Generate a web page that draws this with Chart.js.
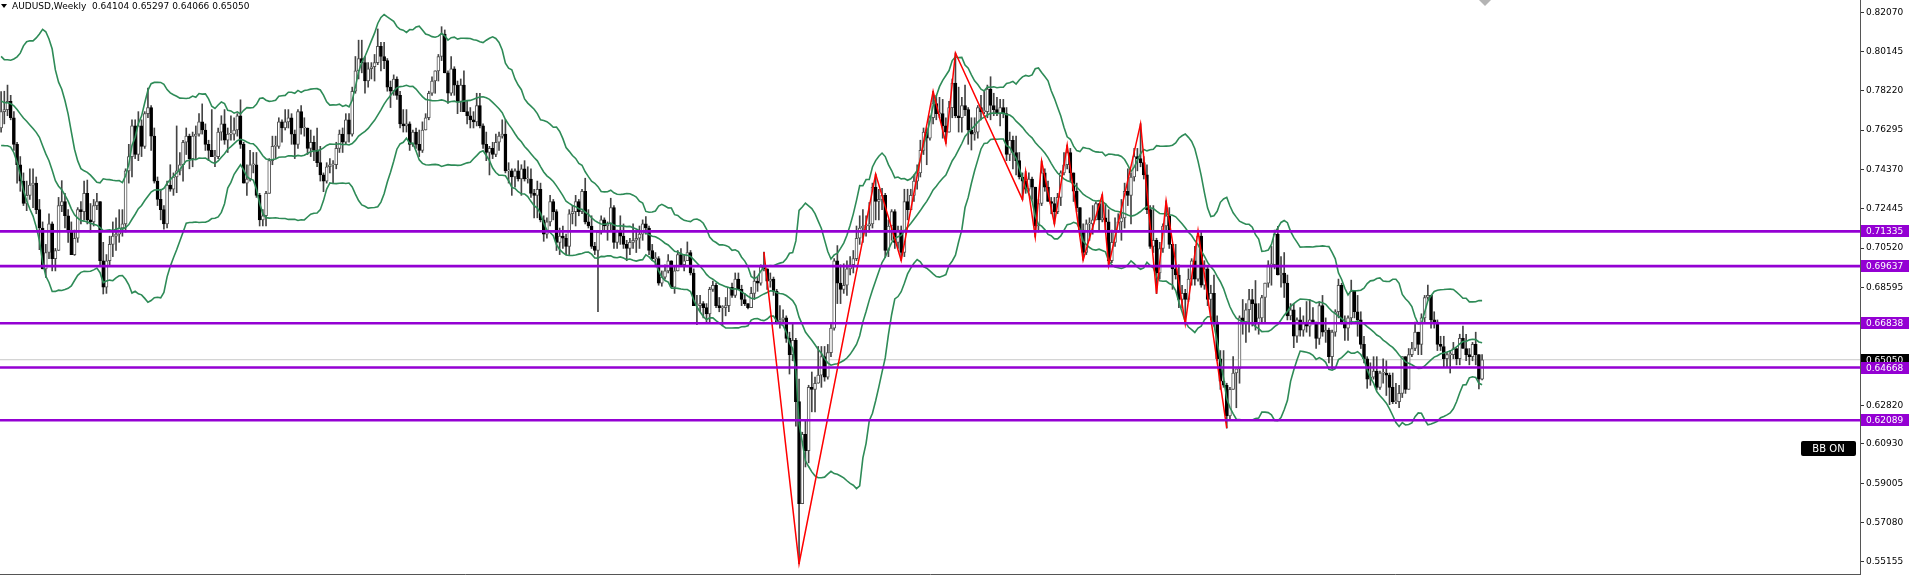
<!DOCTYPE html>
<html>
<head>
<meta charset="utf-8">
<title>AUDUSD Weekly</title>
<script src="https://cdn.jsdelivr.net/npm/chart.js@4.4.1/dist/chart.umd.min.js"></script>
<style>
  html, body { margin: 0; padding: 0; background: #fff; overflow: hidden; }
  #wrap { width: 1911px; height: 577px; }
</style>
</head>
<body>
<div id="wrap"><canvas id="chart" width="1911" height="577"></canvas></div>
<script>
// weekly AUDUSD candles, one row = 10 weeks. the first 19 weeks sit left of the
// visible window and only feed the bollinger bands.
const opens = [
  0.8180,0.7900,0.7780,0.7780,0.7770,0.7830,0.7800,0.7680,0.7620,0.7720,
  0.7720,0.7620,0.7630,0.7780,0.7830,0.7840,0.7930,0.8060,0.7800,0.7640,
  0.7720,0.7730,0.7770,0.7690,0.7560,0.7460,0.7380,0.7270,0.7310,0.7360,
  0.7370,0.7240,0.7150,0.6950,0.7030,0.7170,0.7000,0.7040,0.7260,0.7280,
  0.7210,0.7130,0.7020,0.7100,0.7240,0.7230,0.7320,0.7190,0.7180,0.7260,
  0.7280,0.6990,0.6860,0.6990,0.7070,0.7110,0.7120,0.7150,0.7170,0.7430,
  0.7500,0.7650,0.7510,0.7650,0.7550,0.7710,0.7740,0.7600,0.7380,0.7290,
  0.7240,0.7170,0.7360,0.7340,0.7400,0.7430,0.7460,0.7570,0.7600,0.7490,
  0.7600,0.7610,0.7670,0.7630,0.7560,0.7530,0.7500,0.7500,0.7620,0.7660,
  0.7580,0.7610,0.7610,0.7630,0.7700,0.7560,0.7370,0.7390,0.7460,0.7460,
  0.7310,0.7190,0.7210,0.7320,0.7480,0.7550,0.7550,0.7670,0.7640,0.7670,
  0.7690,0.7610,0.7560,0.7720,0.7640,0.7640,0.7540,0.7570,0.7530,0.7470,
  0.7410,0.7380,0.7450,0.7460,0.7460,0.7540,0.7610,0.7570,0.7680,0.7610,
  0.7820,0.7920,0.7980,0.7960,0.7870,0.7930,0.7940,0.7960,0.8040,0.7990,
  0.7970,0.7840,0.7820,0.7880,0.7800,0.7660,0.7650,0.7660,0.7560,0.7620,
  0.7560,0.7530,0.7630,0.7690,0.7810,0.7870,0.7920,0.7990,0.8100,0.7910,
  0.7810,0.7930,0.7850,0.7770,0.7850,0.7720,0.7700,0.7680,0.7670,0.7750,
  0.7650,0.7560,0.7520,0.7540,0.7510,0.7570,0.7600,0.7610,0.7430,0.7430,
  0.7400,0.7430,0.7390,0.7440,0.7390,0.7390,0.7320,0.7310,0.7340,0.7190,
  0.7120,0.7180,0.7280,0.7230,0.7080,0.7110,0.7100,0.7060,0.7220,0.7230,
  0.7280,0.7230,0.7330,0.7180,0.7160,0.7060,0.7040,0.7130,0.7190,0.7160,
  0.7170,0.7250,0.7080,0.7140,0.7110,0.7070,0.7050,0.7080,0.7090,0.7100,
  0.7120,0.7170,0.7150,0.7040,0.7000,0.7000,0.6880,0.6910,0.6940,0.6990,
  0.6860,0.6940,0.7020,0.6970,0.6990,0.7030,0.6930,0.6770,0.6770,0.6780,
  0.6760,0.6730,0.6850,0.6870,0.6770,0.6760,0.6760,0.6770,0.6860,0.6820,
  0.6900,0.6850,0.6800,0.6780,0.6760,0.6830,0.6890,0.6880,0.6960,0.6950,
  0.6890,0.6900,0.6840,0.6690,0.6700,0.6710,0.6610,0.6530,0.6600,0.6300,
  0.5800,0.6140,0.6060,0.6370,0.6360,0.6390,0.6430,0.6520,0.6420,0.6540,
  0.6660,0.6990,0.6880,0.6850,0.6870,0.6950,0.6970,0.7000,0.7100,0.7150,
  0.7160,0.7160,0.7170,0.7350,0.7280,0.7290,0.7310,0.7040,0.7160,0.7230,
  0.7080,0.7140,0.7030,0.7280,0.7240,0.7310,0.7380,0.7420,0.7530,0.7620,
  0.7590,0.7690,0.7760,0.7710,0.7710,0.7650,0.7620,0.7740,0.7860,0.7700,
  0.7690,0.7750,0.7730,0.7630,0.7610,0.7620,0.7740,0.7720,0.7720,0.7830,
  0.7750,0.7730,0.7710,0.7740,0.7710,0.7510,0.7580,0.7520,0.7480,0.7400,
  0.7380,0.7340,0.7390,0.7350,0.7160,0.7270,0.7420,0.7350,0.7280,0.7270,
  0.7230,0.7300,0.7420,0.7460,0.7520,0.7420,0.7330,0.7250,0.7140,0.7030,
  0.7170,0.7170,0.7190,0.7270,0.7190,0.7200,0.7180,0.6990,0.7080,0.7130,
  0.7180,0.7200,0.7330,0.7310,0.7400,0.7500,0.7490,0.7470,0.7410,0.7240,
  0.7060,0.7090,0.6930,0.7050,0.7160,0.7210,0.7070,0.6950,0.6920,0.6800,
  0.6830,0.6800,0.6900,0.6990,0.6900,0.7110,0.6870,0.6950,0.6800,0.6830,
  0.6690,0.6510,0.6400,0.6380,0.6230,0.6360,0.6440,0.6460,0.6710,0.6690,
  0.6750,0.6800,0.6780,0.6680,0.6710,0.6810,0.6880,0.6970,0.6970,0.7120,
  0.6920,0.6930,0.6880,0.6720,0.6750,0.6620,0.6700,0.6650,0.6690,0.6670,
  0.6700,0.6690,0.6610,0.6770,0.6640,0.6650,0.6520,0.6640,0.6740,0.6870,
  0.6690,0.6660,0.6710,0.6840,0.6740,0.6700,0.6580,0.6510,0.6410,0.6420,
  0.6450,0.6370,0.6440,0.6440,0.6430,0.6370,0.6300,0.6300,0.6340,0.6520,
  0.6360,0.6530,0.6560,0.6640,0.6580,0.6710,0.6810,0.6820,0.6700,0.6690,
  0.6580,0.6570,0.6510,0.6530,0.6530,0.6560,0.6510,0.6610,0.6560,0.6530,
  0.6520,0.6580,0.6530,0.64104
];
const highs = [
  0.8230,0.7950,0.7840,0.7820,0.7880,0.7910,0.7840,0.7720,0.7800,0.7940,
  0.7720,0.7740,0.7800,0.7850,0.8068,0.7950,0.8163,0.8080,0.7830,0.7818,
  0.7820,0.7850,0.7800,0.7720,0.7570,0.7500,0.7420,0.7380,0.7440,0.7440,
  0.7400,0.7290,0.7180,0.7070,0.7220,0.7180,0.7050,0.7300,0.7382,0.7320,
  0.7240,0.7180,0.7140,0.7250,0.7280,0.7380,0.7385,0.7270,0.7290,0.7320,
  0.7280,0.7080,0.7020,0.7110,0.7180,0.7200,0.7240,0.7240,0.7440,0.7560,
  0.7680,0.7680,0.7720,0.7680,0.7720,0.7835,0.7750,0.7640,0.7400,0.7340,
  0.7260,0.7380,0.7460,0.7420,0.7650,0.7520,0.7580,0.7640,0.7610,0.7620,
  0.7650,0.7710,0.7758,0.7660,0.7580,0.7730,0.7530,0.7640,0.7700,0.7730,
  0.7640,0.7700,0.7690,0.7710,0.7778,0.7570,0.7460,0.7530,0.7520,0.7520,
  0.7320,0.7240,0.7330,0.7490,0.7600,0.7600,0.7690,0.7680,0.7730,0.7730,
  0.7710,0.7630,0.7730,0.7750,0.7690,0.7640,0.7630,0.7600,0.7640,0.7550,
  0.7420,0.7470,0.7490,0.7480,0.7570,0.7630,0.7640,0.7710,0.7710,0.7840,
  0.7990,0.8070,0.8070,0.7990,0.7960,0.7960,0.8000,0.8125,0.8060,0.8060,
  0.7980,0.7870,0.7900,0.7890,0.7820,0.7730,0.7730,0.7670,0.7630,0.7640,
  0.7630,0.7670,0.7710,0.7820,0.7890,0.7920,0.8000,0.8136,0.8120,0.7920,
  0.7990,0.7940,0.7870,0.7880,0.7920,0.7770,0.7740,0.7720,0.7810,0.7810,
  0.7660,0.7620,0.7550,0.7570,0.7610,0.7620,0.7680,0.7680,0.7470,0.7440,
  0.7440,0.7480,0.7460,0.7480,0.7450,0.7440,0.7340,0.7380,0.7370,0.7210,
  0.7200,0.7310,0.7290,0.7240,0.7150,0.7160,0.7120,0.7240,0.7260,0.7310,
  0.7290,0.7340,0.7394,0.7240,0.7210,0.7080,0.7060,0.7210,0.7200,0.7180,
  0.7296,0.7260,0.7140,0.7210,0.7170,0.7090,0.7100,0.7170,0.7140,0.7160,
  0.7190,0.7206,0.7160,0.7070,0.7030,0.7010,0.6940,0.6970,0.7020,0.6990,
  0.6960,0.7040,0.7050,0.7020,0.7082,0.7040,0.6950,0.6820,0.6820,0.6790,
  0.6780,0.6860,0.6890,0.6880,0.6810,0.6770,0.6810,0.6860,0.6880,0.6930,
  0.6930,0.6870,0.6830,0.6780,0.6860,0.6940,0.6910,0.6970,0.7032,0.6950,
  0.6930,0.6910,0.6850,0.6770,0.6750,0.6720,0.6640,0.6685,0.6610,0.6410,
  0.6150,0.6210,0.6380,0.6445,0.6420,0.6570,0.6570,0.6570,0.6580,0.6680,
  0.7000,0.7064,0.6970,0.6975,0.6990,0.7010,0.7040,0.7160,0.7210,0.7240,
  0.7210,0.7275,0.7370,0.7414,0.7340,0.7345,0.7320,0.7190,0.7240,0.7240,
  0.7160,0.7160,0.7340,0.7340,0.7340,0.7410,0.7460,0.7580,0.7640,0.7640,
  0.7700,0.7820,0.7800,0.7790,0.7780,0.7690,0.7770,0.7880,0.8007,0.7840,
  0.7790,0.7850,0.7740,0.7690,0.7690,0.7750,0.7800,0.7820,0.7850,0.7891,
  0.7810,0.7790,0.7780,0.7780,0.7740,0.7620,0.7600,0.7600,0.7520,0.7420,
  0.7427,0.7420,0.7400,0.7350,0.7290,0.7478,0.7440,0.7380,0.7300,0.7300,
  0.7320,0.7430,0.7520,0.7556,0.7540,0.7420,0.7370,0.7250,0.7170,0.7190,
  0.7200,0.7260,0.7278,0.7270,0.7314,0.7270,0.7240,0.7140,0.7200,0.7220,
  0.7290,0.7370,0.7440,0.7420,0.7540,0.7540,0.7661,0.7500,0.7460,0.7260,
  0.7260,0.7100,0.7080,0.7170,0.7283,0.7250,0.7070,0.7070,0.6970,0.6870,
  0.6850,0.6950,0.7000,0.7060,0.7137,0.7130,0.6990,0.6960,0.6870,0.6920,
  0.6720,0.6550,0.6550,0.6390,0.6370,0.6520,0.6460,0.6720,0.6800,0.6780,
  0.6850,0.6850,0.6893,0.6780,0.6820,0.6880,0.6990,0.7060,0.7140,0.7158,
  0.7010,0.7030,0.6920,0.6780,0.6780,0.6710,0.6760,0.6720,0.6790,0.6800,
  0.6760,0.6690,0.6790,0.6820,0.6710,0.6660,0.6650,0.6750,0.6900,0.6880,
  0.6720,0.6720,0.6895,0.6840,0.6820,0.6740,0.6620,0.6520,0.6490,0.6520,
  0.6520,0.6450,0.6510,0.6500,0.6440,0.6440,0.6390,0.6380,0.6520,0.6520,
  0.6560,0.6590,0.6690,0.6640,0.6730,0.6820,0.6871,0.6820,0.6740,0.6700,
  0.6620,0.6620,0.6540,0.6550,0.6590,0.6560,0.6630,0.6670,0.6630,0.6560,
  0.6590,0.6640,0.6530,0.65297
];
const lows = [
  0.7880,0.7740,0.7626,0.7650,0.7730,0.7780,0.7670,0.7561,0.7600,0.7700,
  0.7533,0.7590,0.7610,0.7670,0.7800,0.7800,0.7910,0.7760,0.7600,0.7620,
  0.7660,0.7700,0.7680,0.7530,0.7370,0.7330,0.7260,0.7235,0.7290,0.7250,
  0.7220,0.7044,0.6950,0.6908,0.7000,0.6940,0.6940,0.7040,0.7230,0.7150,
  0.7080,0.7020,0.7016,0.7080,0.7170,0.7190,0.7170,0.7130,0.7160,0.7240,
  0.6970,0.6827,0.6830,0.6970,0.7010,0.7040,0.7080,0.7110,0.7130,0.7370,
  0.7400,0.7490,0.7480,0.7500,0.7540,0.7690,0.7530,0.7370,0.7260,0.7190,
  0.7145,0.7150,0.7330,0.7310,0.7323,0.7410,0.7380,0.7510,0.7440,0.7450,
  0.7490,0.7600,0.7610,0.7530,0.7480,0.7500,0.7450,0.7490,0.7580,0.7560,
  0.7520,0.7580,0.7580,0.7600,0.7540,0.7370,0.7310,0.7380,0.7420,0.7300,
  0.7160,0.7160,0.7160,0.7320,0.7460,0.7490,0.7540,0.7570,0.7630,0.7640,
  0.7560,0.7490,0.7540,0.7610,0.7600,0.7510,0.7500,0.7480,0.7450,0.7380,
  0.7328,0.7370,0.7420,0.7370,0.7440,0.7520,0.7520,0.7560,0.7570,0.7600,
  0.7810,0.7880,0.7910,0.7810,0.7840,0.7880,0.7870,0.7950,0.7920,0.7930,
  0.7820,0.7740,0.7800,0.7780,0.7640,0.7620,0.7620,0.7530,0.7550,0.7540,
  0.7500,0.7520,0.7630,0.7680,0.7800,0.7810,0.7870,0.7970,0.7910,0.7760,
  0.7800,0.7800,0.7710,0.7720,0.7720,0.7660,0.7640,0.7640,0.7650,0.7640,
  0.7540,0.7480,0.7410,0.7490,0.7500,0.7530,0.7590,0.7420,0.7370,0.7310,
  0.7350,0.7380,0.7310,0.7380,0.7370,0.7300,0.7200,0.7200,0.7180,0.7085,
  0.7100,0.7160,0.7190,0.7040,0.7020,0.7050,0.7020,0.7020,0.7170,0.7160,
  0.7210,0.7220,0.7170,0.7150,0.7050,0.7020,0.6740,0.7120,0.7140,0.7090,
  0.7140,0.7050,0.7050,0.7070,0.7050,0.6990,0.7020,0.7050,0.7030,0.7050,
  0.7090,0.7120,0.7020,0.6990,0.6960,0.6870,0.6865,0.6900,0.6930,0.6860,
  0.6830,0.6940,0.6970,0.6940,0.6990,0.6920,0.6770,0.6677,0.6740,0.6710,
  0.6690,0.6690,0.6840,0.6760,0.6740,0.6671,0.6720,0.6740,0.6810,0.6810,
  0.6850,0.6770,0.6770,0.6754,0.6760,0.6800,0.6840,0.6870,0.6940,0.6850,
  0.6860,0.6820,0.6680,0.6660,0.6680,0.6590,0.6435,0.6500,0.6180,0.5506,
  0.5800,0.5980,0.6000,0.6250,0.6250,0.6390,0.6370,0.6400,0.6410,0.6520,
  0.6650,0.6780,0.6780,0.6830,0.6820,0.6920,0.6930,0.6990,0.7070,0.7080,
  0.7110,0.7130,0.7150,0.7190,0.7190,0.7240,0.7005,0.7010,0.7090,0.7050,
  0.7050,0.6991,0.7010,0.7190,0.7240,0.7280,0.7340,0.7400,0.7510,0.7460,
  0.7580,0.7660,0.7680,0.7690,0.7590,0.7564,0.7620,0.7690,0.7690,0.7620,
  0.7620,0.7700,0.7560,0.7532,0.7580,0.7590,0.7680,0.7710,0.7690,0.7680,
  0.7700,0.7700,0.7650,0.7690,0.7480,0.7480,0.7440,0.7410,0.7390,0.7289,
  0.7320,0.7330,0.7290,0.7106,0.7130,0.7260,0.7330,0.7280,0.7220,0.7170,
  0.7220,0.7260,0.7410,0.7440,0.7380,0.7280,0.7230,0.7110,0.6993,0.7020,
  0.7090,0.7120,0.7190,0.7140,0.7180,0.7140,0.6967,0.6980,0.7060,0.7130,
  0.7090,0.7150,0.7260,0.7170,0.7380,0.7430,0.7450,0.7390,0.7220,0.7050,
  0.7030,0.6829,0.6900,0.7030,0.7130,0.7050,0.6850,0.6900,0.6760,0.6760,
  0.6681,0.6790,0.6870,0.6870,0.6890,0.6860,0.6850,0.6770,0.6700,0.6670,
  0.6500,0.6360,0.6370,0.6170,0.6210,0.6360,0.6270,0.6390,0.6630,0.6590,
  0.6640,0.6670,0.6650,0.6630,0.6690,0.6690,0.6860,0.6870,0.6950,0.6920,
  0.6860,0.6810,0.6700,0.6700,0.6564,0.6590,0.6620,0.6620,0.6640,0.6620,
  0.6680,0.6560,0.6580,0.6620,0.6590,0.6490,0.6460,0.6620,0.6710,0.6680,
  0.6600,0.6600,0.6680,0.6710,0.6620,0.6560,0.6490,0.6365,0.6380,0.6410,
  0.6357,0.6360,0.6390,0.6330,0.6285,0.6290,0.6290,0.6270,0.6320,0.6340,
  0.6360,0.6520,0.6550,0.6530,0.6530,0.6690,0.6800,0.6660,0.6660,0.6550,
  0.6550,0.6470,0.6470,0.6440,0.6510,0.6480,0.6480,0.6560,0.6500,0.6480,
  0.6500,0.6480,0.6362,0.64066
];
const closes = [
  0.7900,0.7780,0.7780,0.7770,0.7830,0.7800,0.7680,0.7620,0.7720,0.7720,
  0.7620,0.7630,0.7780,0.7830,0.7840,0.7930,0.8060,0.7800,0.7640,0.7720,
  0.7730,0.7770,0.7690,0.7560,0.7460,0.7380,0.7270,0.7310,0.7360,0.7370,
  0.7240,0.7150,0.6950,0.7030,0.7170,0.7000,0.7040,0.7260,0.7280,0.7210,
  0.7130,0.7020,0.7100,0.7240,0.7230,0.7320,0.7190,0.7180,0.7260,0.7280,
  0.6990,0.6860,0.6990,0.7070,0.7110,0.7120,0.7150,0.7170,0.7430,0.7500,
  0.7650,0.7510,0.7650,0.7550,0.7710,0.7740,0.7600,0.7380,0.7290,0.7240,
  0.7170,0.7360,0.7340,0.7400,0.7430,0.7460,0.7570,0.7600,0.7490,0.7600,
  0.7610,0.7670,0.7630,0.7560,0.7530,0.7500,0.7500,0.7620,0.7660,0.7580,
  0.7610,0.7610,0.7630,0.7700,0.7560,0.7370,0.7390,0.7460,0.7460,0.7310,
  0.7190,0.7210,0.7320,0.7480,0.7550,0.7550,0.7670,0.7640,0.7670,0.7690,
  0.7610,0.7560,0.7720,0.7640,0.7640,0.7540,0.7570,0.7530,0.7470,0.7410,
  0.7380,0.7450,0.7460,0.7460,0.7540,0.7610,0.7570,0.7680,0.7610,0.7820,
  0.7920,0.7980,0.7960,0.7870,0.7930,0.7940,0.7960,0.8040,0.7990,0.7970,
  0.7840,0.7820,0.7880,0.7800,0.7660,0.7650,0.7660,0.7560,0.7620,0.7560,
  0.7530,0.7630,0.7690,0.7810,0.7870,0.7920,0.7990,0.8100,0.7910,0.7810,
  0.7930,0.7850,0.7770,0.7850,0.7720,0.7700,0.7680,0.7670,0.7750,0.7650,
  0.7560,0.7520,0.7540,0.7510,0.7570,0.7600,0.7610,0.7430,0.7430,0.7400,
  0.7430,0.7390,0.7440,0.7390,0.7390,0.7320,0.7310,0.7340,0.7190,0.7120,
  0.7180,0.7280,0.7230,0.7080,0.7110,0.7100,0.7060,0.7220,0.7230,0.7280,
  0.7230,0.7330,0.7180,0.7160,0.7060,0.7040,0.7130,0.7190,0.7160,0.7170,
  0.7250,0.7080,0.7140,0.7110,0.7070,0.7050,0.7080,0.7090,0.7100,0.7120,
  0.7170,0.7150,0.7040,0.7000,0.7000,0.6880,0.6910,0.6940,0.6990,0.6860,
  0.6940,0.7020,0.6970,0.6990,0.7030,0.6930,0.6770,0.6770,0.6780,0.6760,
  0.6730,0.6850,0.6870,0.6770,0.6760,0.6760,0.6770,0.6860,0.6820,0.6900,
  0.6850,0.6800,0.6780,0.6760,0.6830,0.6890,0.6880,0.6960,0.6950,0.6890,
  0.6900,0.6840,0.6690,0.6700,0.6710,0.6610,0.6530,0.6600,0.6300,0.5800,
  0.6140,0.6060,0.6370,0.6360,0.6390,0.6430,0.6520,0.6420,0.6540,0.6660,
  0.6990,0.6880,0.6850,0.6870,0.6950,0.6970,0.7000,0.7100,0.7150,0.7160,
  0.7160,0.7170,0.7350,0.7280,0.7290,0.7310,0.7040,0.7160,0.7230,0.7080,
  0.7140,0.7030,0.7280,0.7240,0.7310,0.7380,0.7420,0.7530,0.7620,0.7590,
  0.7690,0.7760,0.7710,0.7710,0.7650,0.7620,0.7740,0.7860,0.7700,0.7690,
  0.7750,0.7730,0.7630,0.7610,0.7620,0.7740,0.7720,0.7720,0.7830,0.7750,
  0.7730,0.7710,0.7740,0.7710,0.7510,0.7580,0.7520,0.7480,0.7400,0.7380,
  0.7340,0.7390,0.7350,0.7160,0.7270,0.7420,0.7350,0.7280,0.7270,0.7230,
  0.7300,0.7420,0.7460,0.7520,0.7420,0.7330,0.7250,0.7140,0.7030,0.7170,
  0.7170,0.7190,0.7270,0.7190,0.7200,0.7180,0.6990,0.7080,0.7130,0.7180,
  0.7200,0.7330,0.7310,0.7400,0.7500,0.7490,0.7470,0.7410,0.7240,0.7060,
  0.7090,0.6930,0.7050,0.7160,0.7210,0.7070,0.6950,0.6920,0.6800,0.6830,
  0.6800,0.6900,0.6990,0.6900,0.7110,0.6870,0.6950,0.6800,0.6830,0.6690,
  0.6510,0.6400,0.6380,0.6230,0.6360,0.6440,0.6460,0.6710,0.6690,0.6750,
  0.6800,0.6780,0.6680,0.6710,0.6810,0.6880,0.6970,0.6970,0.7120,0.6920,
  0.6930,0.6880,0.6720,0.6750,0.6620,0.6700,0.6650,0.6690,0.6670,0.6700,
  0.6690,0.6610,0.6770,0.6640,0.6650,0.6520,0.6640,0.6740,0.6870,0.6690,
  0.6660,0.6710,0.6840,0.6740,0.6700,0.6580,0.6510,0.6410,0.6420,0.6450,
  0.6370,0.6440,0.6440,0.6430,0.6370,0.6300,0.6300,0.6340,0.6520,0.6360,
  0.6530,0.6560,0.6640,0.6580,0.6710,0.6810,0.6820,0.6700,0.6690,0.6580,
  0.6570,0.6510,0.6530,0.6530,0.6560,0.6510,0.6610,0.6560,0.6530,0.6520,
  0.6580,0.6530,0.6410,0.65050
];

// price scale labels on the right
const yTicks = [0.82070, 0.80145, 0.78220, 0.76295, 0.74370, 0.72445, 0.70520, 0.68595,
                0.66670, 0.64745, 0.62820, 0.60930, 0.59005, 0.57080, 0.55155];
// horizontal support / resistance lines
const levels = [0.71335, 0.69637, 0.66838, 0.64668, 0.62089];
const lastPrice = 0.65050;
// zigzag turning points (week index, price)
const zigzagWeeks  = [258, 269, 293, 301, 311, 315, 318, 339, 340, 343, 345, 349, 353, 358, 364, 366, 376, 381, 384, 390, 394, 403];
const zigzagPrices = [0.7032, 0.5506, 0.7414, 0.6991, 0.7820, 0.7564, 0.8007, 0.7289, 0.7427, 0.7106, 0.7478,
                      0.7170, 0.7556, 0.6993, 0.7314, 0.6967, 0.7661, 0.6829, 0.7283, 0.6681, 0.7137, 0.6170];

const symbol = 'AUDUSD,Weekly';
const firstShown = 19;
const xMin = 18.65, xMax = 601.4;
const yMin = 0.54558, yMax = 0.82667;

const purple = '#9400d3';
const bandGreen = '#2e8b57';
const font = '"DejaVu Sans", "Liberation Sans", sans-serif';

// bollinger bands 20, 2
function bollinger(period, dev) {
  const mid = [], up = [], lo = [];
  for (let i = Math.max(period - 1, firstShown); i < closes.length; i++) {
    const win = closes.slice(i - period + 1, i + 1);
    const m = win.reduce((a, b) => a + b, 0) / period;
    const sd = Math.sqrt(win.reduce((a, b) => a + (b - m) * (b - m), 0) / period);
    mid.push({x: i, y: m});
    up.push({x: i, y: m + dev * sd});
    lo.push({x: i, y: m - dev * sd});
  }
  return {mid, up, lo};
}
const bb = bollinger(20, 2);

const wickData = [], bodyData = [], bodyFill = [], bodyEdge = [];
for (let i = firstShown; i < closes.length; i++) {
  const bull = closes[i] >= opens[i];
  wickData.push({x: i, y: [lows[i], highs[i]]});
  bodyData.push({x: i, y: [Math.min(opens[i], closes[i]), Math.max(opens[i], closes[i])]});
  bodyFill.push(bull ? '#ffffff' : '#000000');
  bodyEdge.push(bull ? '#555555' : '#000000');
}

const bandLine = (data) => ({
  type: 'line', data: data, borderColor: bandGreen, borderWidth: 1.6,
  pointRadius: 0, tension: 0, order: 3
});

const datasets = [
  { type: 'line', data: [{x: xMin, y: lastPrice}, {x: xMax, y: lastPrice}],
    borderColor: '#c8c8c8', borderWidth: 1, pointRadius: 0, order: 7 },
  { type: 'bar', data: wickData, backgroundColor: '#444', barThickness: 1,
    grouped: false, order: 6 },
  { type: 'bar', data: bodyData, backgroundColor: bodyFill, borderColor: bodyEdge,
    borderWidth: 1, borderSkipped: false, barThickness: 3, minBarLength: 1,
    grouped: false, order: 5 },
  bandLine(bb.up), bandLine(bb.mid), bandLine(bb.lo),
  { type: 'line', data: zigzagWeeks.map((w, k) => ({x: w, y: zigzagPrices[k]})),
    borderColor: '#ff0000', borderWidth: 1.5, pointRadius: 0, tension: 0, order: 2 }
];
levels.forEach(v => datasets.push({
  type: 'line', data: [{x: xMin, y: v}, {x: xMax, y: v}],
  borderColor: purple, borderWidth: 2.6, pointRadius: 0, order: 1
}));

const overlay = {
  id: 'overlay',
  afterDraw(chart) {
    const {ctx, chartArea: a, scales: {y}} = chart;
    ctx.save();
    ctx.strokeStyle = '#555';
    ctx.lineWidth = 1;
    ctx.beginPath();
    ctx.moveTo(0, a.bottom + 0.5);
    ctx.lineTo(a.right + 1, a.bottom + 0.5);
    ctx.stroke();

    ctx.font = '9px ' + font;
    ctx.textBaseline = 'middle';
    const box = (v, bg) => {
      const py = Math.round(y.getPixelForValue(v));
      ctx.fillStyle = bg;
      ctx.fillRect(a.right + 1, py - 6, 48, 12);
      ctx.fillStyle = '#fff';
      ctx.fillText(v.toFixed(5), a.right + 6, py + 0.5);
    };
    box(lastPrice, '#000');
    levels.forEach(v => box(v, purple));

    // symbol line top-left
    const n = closes.length - 1;
    ctx.fillStyle = '#000';
    ctx.beginPath();
    ctx.moveTo(1, 4); ctx.lineTo(7, 4); ctx.lineTo(4, 8); ctx.closePath();
    ctx.fill();
    ctx.fillText(symbol + '  ' + [opens[n], highs[n], lows[n], closes[n]].map(v => v.toFixed(5)).join(' '), 12, 7);

    // chart shift marker
    ctx.fillStyle = '#b4b4b4';
    ctx.beginPath();
    ctx.moveTo(1479, 0); ctx.lineTo(1491, 0); ctx.lineTo(1485, 6); ctx.closePath();
    ctx.fill();

    // BB ON badge
    ctx.fillStyle = '#000';
    ctx.beginPath();
    ctx.roundRect(1801, 441, 55, 15, 2);
    ctx.fill();
    ctx.fillStyle = '#fff';
    ctx.font = '10px ' + font;
    ctx.textAlign = 'center';
    ctx.fillText('BB ON', 1828.5, 449);
    ctx.restore();
  }
};

new Chart(document.getElementById('chart'), {
  type: 'bar',
  data: { datasets: datasets },
  options: {
    responsive: false,
    animation: false,
    events: [],
    layout: { padding: { top: 0, left: 0, right: 0, bottom: 3 } },
    plugins: { legend: { display: false }, tooltip: { enabled: false } },
    scales: {
      x: { type: 'linear', min: xMin, max: xMax, display: false, offset: false },
      y: {
        position: 'right',
        min: yMin, max: yMax,
        afterBuildTicks: s => { s.ticks = yTicks.map(v => ({value: v})); },
        afterFit: s => { s.width = 51; s.paddingTop = 0; s.paddingBottom = 0; },
        grid: { drawOnChartArea: false, drawTicks: true, tickLength: 4, tickColor: '#333' },
        border: { display: true, color: '#555', width: 1 },
        ticks: {
          autoSkip: false, padding: 2, color: '#000',
          font: { family: font, size: 9 },
          callback: v => v.toFixed(5)
        }
      }
    }
  },
  plugins: [overlay]
});
</script>
</body>
</html>
